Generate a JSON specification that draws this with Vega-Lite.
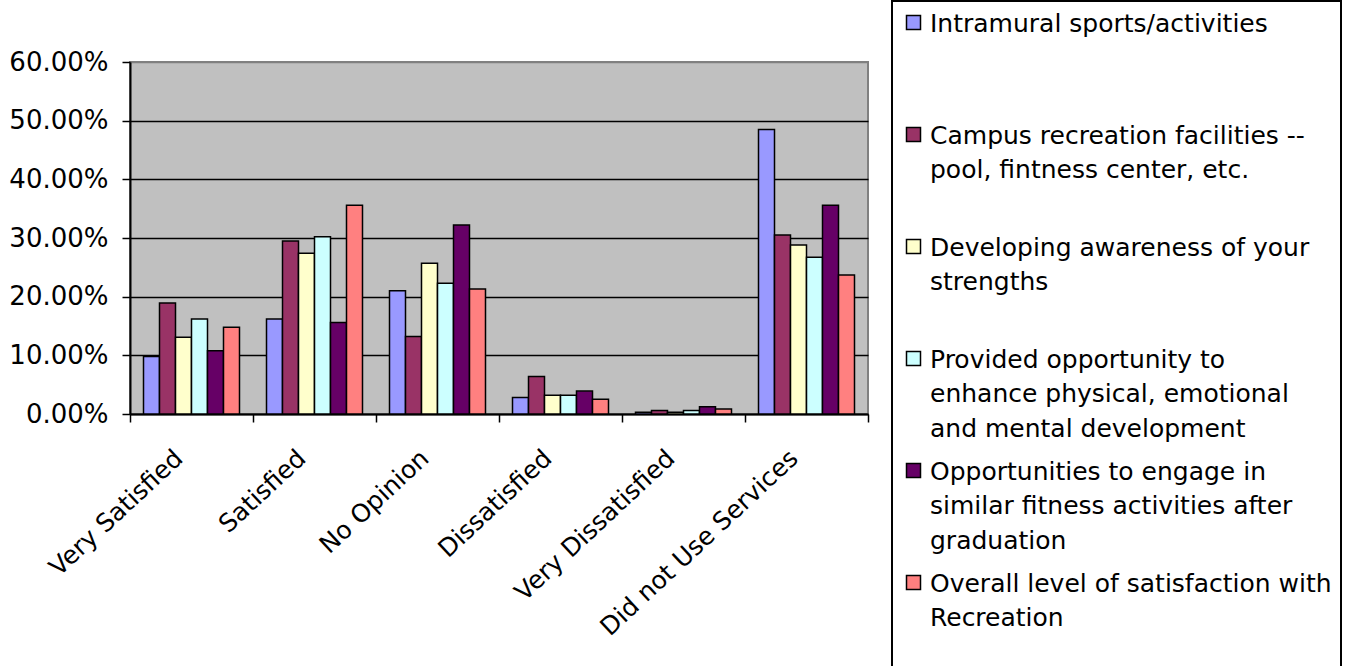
{
  "$schema": "https://vega.github.io/schema/vega-lite/v6.json",
  "width": 738,
  "height": 352,
  "autosize": {"type": "none"},
  "padding": {"left": 130, "top": 62, "right": 488, "bottom": 252},
  "background": "white",
  "data": {
    "values": [
      {"response": "Very Satisfied", "item": "Intramural sports/activities", "pct": 0.098},
      {"response": "Very Satisfied", "item": "Campus recreation facilities -- pool, fintness center, etc.", "pct": 0.189},
      {"response": "Very Satisfied", "item": "Developing awareness of your strengths", "pct": 0.131},
      {"response": "Very Satisfied", "item": "Provided opportunity to enhance physical, emotional and mental development", "pct": 0.162},
      {"response": "Very Satisfied", "item": "Opportunities to engage in similar fitness activities after graduation", "pct": 0.108},
      {"response": "Very Satisfied", "item": "Overall level of satisfaction with Recreation", "pct": 0.148},
      {"response": "Satisfied", "item": "Intramural sports/activities", "pct": 0.162},
      {"response": "Satisfied", "item": "Campus recreation facilities -- pool, fintness center, etc.", "pct": 0.295},
      {"response": "Satisfied", "item": "Developing awareness of your strengths", "pct": 0.274},
      {"response": "Satisfied", "item": "Provided opportunity to enhance physical, emotional and mental development", "pct": 0.302},
      {"response": "Satisfied", "item": "Opportunities to engage in similar fitness activities after graduation", "pct": 0.156},
      {"response": "Satisfied", "item": "Overall level of satisfaction with Recreation", "pct": 0.356},
      {"response": "No Opinion", "item": "Intramural sports/activities", "pct": 0.210},
      {"response": "No Opinion", "item": "Campus recreation facilities -- pool, fintness center, etc.", "pct": 0.132},
      {"response": "No Opinion", "item": "Developing awareness of your strengths", "pct": 0.257},
      {"response": "No Opinion", "item": "Provided opportunity to enhance physical, emotional and mental development", "pct": 0.223},
      {"response": "No Opinion", "item": "Opportunities to engage in similar fitness activities after graduation", "pct": 0.322},
      {"response": "No Opinion", "item": "Overall level of satisfaction with Recreation", "pct": 0.213},
      {"response": "Dissatisfied", "item": "Intramural sports/activities", "pct": 0.028},
      {"response": "Dissatisfied", "item": "Campus recreation facilities -- pool, fintness center, etc.", "pct": 0.064},
      {"response": "Dissatisfied", "item": "Developing awareness of your strengths", "pct": 0.032},
      {"response": "Dissatisfied", "item": "Provided opportunity to enhance physical, emotional and mental development", "pct": 0.032},
      {"response": "Dissatisfied", "item": "Opportunities to engage in similar fitness activities after graduation", "pct": 0.039},
      {"response": "Dissatisfied", "item": "Overall level of satisfaction with Recreation", "pct": 0.025},
      {"response": "Very Dissatisfied", "item": "Intramural sports/activities", "pct": 0.003},
      {"response": "Very Dissatisfied", "item": "Campus recreation facilities -- pool, fintness center, etc.", "pct": 0.006},
      {"response": "Very Dissatisfied", "item": "Developing awareness of your strengths", "pct": 0.003},
      {"response": "Very Dissatisfied", "item": "Provided opportunity to enhance physical, emotional and mental development", "pct": 0.006},
      {"response": "Very Dissatisfied", "item": "Opportunities to engage in similar fitness activities after graduation", "pct": 0.0125},
      {"response": "Very Dissatisfied", "item": "Overall level of satisfaction with Recreation", "pct": 0.0085},
      {"response": "Did not Use Services", "item": "Intramural sports/activities", "pct": 0.485},
      {"response": "Did not Use Services", "item": "Campus recreation facilities -- pool, fintness center, etc.", "pct": 0.305},
      {"response": "Did not Use Services", "item": "Developing awareness of your strengths", "pct": 0.288},
      {"response": "Did not Use Services", "item": "Provided opportunity to enhance physical, emotional and mental development", "pct": 0.267},
      {"response": "Did not Use Services", "item": "Opportunities to engage in similar fitness activities after graduation", "pct": 0.356},
      {"response": "Did not Use Services", "item": "Overall level of satisfaction with Recreation", "pct": 0.237}
    ]
  },
  "mark": {"type": "bar", "stroke": "black", "strokeWidth": 1.5},
  "encoding": {
    "x": {
      "field": "response",
      "type": "nominal",
      "sort": ["Very Satisfied", "Satisfied", "No Opinion", "Dissatisfied", "Very Dissatisfied", "Did not Use Services"],
      "scale": {"paddingInner": 0, "paddingOuter": 0},
      "axis": {
        "title": null,
        "tickBand": "extent",
        "labelAngle": -43,
        "labelAlign": "right",
        "labelBaseline": "middle",
        "labelPadding": 32,
        "labelOffset": -13,
        "tickSize": 8,
        "tickColor": "black",
        "tickWidth": 1.5,
        "domainColor": "black",
        "domainWidth": 2,
        "labelFont": "DejaVu Sans",
        "labelFontSize": 25,
        "labelColor": "black",
        "labelLimit": 400,
        "grid": false
      }
    },
    "xOffset": {
      "field": "item",
      "type": "nominal",
      "sort": [
        "Intramural sports/activities",
        "Campus recreation facilities -- pool, fintness center, etc.",
        "Developing awareness of your strengths",
        "Provided opportunity to enhance physical, emotional and mental development",
        "Opportunities to engage in similar fitness activities after graduation",
        "Overall level of satisfaction with Recreation"
      ],
      "scale": {"paddingInner": 0, "paddingOuter": 0.844}
    },
    "y": {
      "field": "pct",
      "type": "quantitative",
      "scale": {"domain": [0, 0.6], "nice": false},
      "axis": {
        "title": null,
        "format": ".2%",
        "values": [0, 0.1, 0.2, 0.3, 0.4, 0.5, 0.6],
        "tickSize": 8,
        "tickColor": "black",
        "tickWidth": 1.5,
        "domainColor": "black",
        "domainWidth": 2,
        "labelPadding": 14,
        "labelFont": "DejaVu Sans",
        "labelFontSize": 26,
        "labelColor": "black",
        "grid": true,
        "gridWidth": 1.5,
        "gridColor": {"condition": {"test": "datum.value >= 0.59", "value": "#808080"}, "value": "black"}
      }
    },
    "fill": {
      "field": "item",
      "type": "nominal",
      "scale": {
        "domain": [
          "Intramural sports/activities",
          "Campus recreation facilities -- pool, fintness center, etc.",
          "Developing awareness of your strengths",
          "Provided opportunity to enhance physical, emotional and mental development",
          "Opportunities to engage in similar fitness activities after graduation",
          "Overall level of satisfaction with Recreation"
        ],
        "range": ["#9999FF", "#993366", "#FFFFCC", "#CCFFFF", "#660066", "#FF8080"]
      },
      "legend": {
        "title": null,
        "orient": "none",
        "legendX": 762,
        "legendY": -61,
        "direction": "vertical",
        "symbolType": "square",
        "symbolSize": 196,
        "symbolStrokeColor": "black",
        "symbolStrokeWidth": 1.5,
        "labelFont": "DejaVu Sans",
        "labelFontSize": 25,
        "labelColor": "black",
        "labelLimit": 600,
        "labelOffset": 4,
        "labelBaseline": "top",
        "padding": 9,
        "rowPadding": 16,
        "gridAlign": "each",
        "strokeColor": "black",
        "fillColor": "white",
        "labelExpr": "datum.label == 'Intramural sports/activities' ? ['Intramural sports/activities', '', ''] : datum.label == 'Campus recreation facilities -- pool, fintness center, etc.' ? ['Campus recreation facilities --', 'pool, fintness center, etc.', ''] : datum.label == 'Developing awareness of your strengths' ? ['Developing awareness of your', 'strengths', ''] : datum.label == 'Provided opportunity to enhance physical, emotional and mental development' ? ['Provided opportunity to', 'enhance physical, emotional', 'and mental development'] : datum.label == 'Opportunities to engage in similar fitness activities after graduation' ? ['Opportunities to engage in', 'similar fitness activities after', 'graduation'] : datum.label == 'Overall level of satisfaction with Recreation' ? ['Overall level of satisfaction with', 'Recreation', '', ''] : datum.label",
        "encode": {
          "labels": {"update": {"lineHeight": {"value": 34.5}, "dy": {"value": -11}}},
          "legend": {"update": {"strokeWidth": {"value": 2}}}
        }
      }
    }
  },
  "config": {
    "view": {"fill": "#C0C0C0", "stroke": "#808080", "strokeWidth": 2}
  }
}
